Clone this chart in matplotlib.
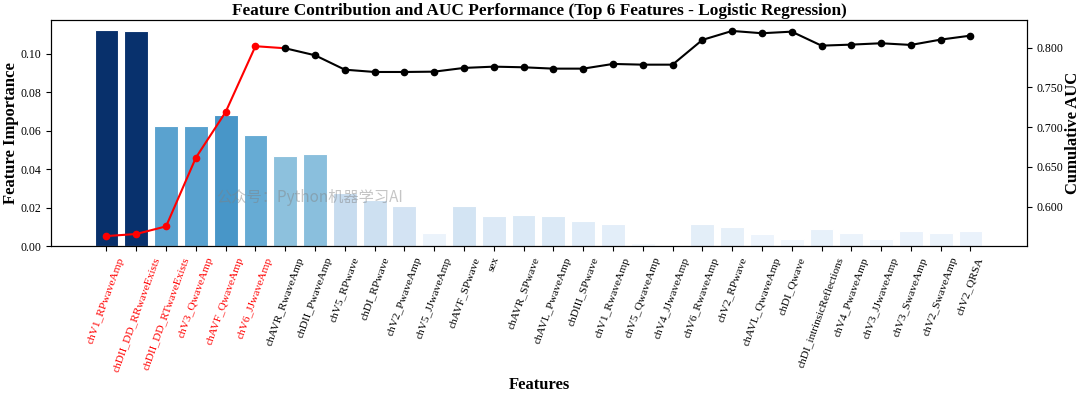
import matplotlib
matplotlib.use('Agg')
import matplotlib.pyplot as plt
import numpy as np

plt.rcParams['font.family'] = ['Liberation Serif', 'Noto Sans CJK SC']

features = ['chV1_RPwaveAmp', 'chDII_DD_RRwaveExists', 'chDII_DD_RTwaveExists',
            'chV3_QwaveAmp', 'chAVF_QwaveAmp', 'chV6_JJwaveAmp', 'chAVR_RwaveAmp',
            'chDII_PwaveAmp', 'chV5_RPwave', 'chDI_RPwave', 'chV2_PwaveAmp',
            'chV5_JJwaveAmp', 'chAVF_SPwave', 'sex', 'chAVR_SPwave', 'chAVL_PwaveAmp',
            'chDIII_SPwave', 'chV1_RwaveAmp', 'chV5_QwaveAmp', 'chV4_JJwaveAmp',
            'chV6_RwaveAmp', 'chV2_RPwave', 'chAVL_QwaveAmp', 'chDI_Qwave',
            'chDI_intrinsicReflections', 'chV4_PwaveAmp', 'chV3_JJwaveAmp',
            'chV3_SwaveAmp', 'chV2_SwaveAmp', 'chV2_QRSA']
importance = np.array([0.1123, 0.1118, 0.0622, 0.0625, 0.0681, 0.0578, 0.0469,
                       0.0477, 0.0275, 0.0239, 0.0207, 0.0066, 0.0206, 0.0157,
                       0.0160, 0.0158, 0.0129, 0.0113, 0.0018, 0.0004, 0.0117,
                       0.0100, 0.0061, 0.0039, 0.0090, 0.0069, 0.0039, 0.0076,
                       0.0069, 0.0077])
auc = np.array([0.5631, 0.5657, 0.5753, 0.6616, 0.7191, 0.8018, 0.7992, 0.7904,
                0.7723, 0.7694, 0.7694, 0.7698, 0.7745, 0.7761, 0.7753, 0.7736,
                0.7736, 0.7795, 0.7786, 0.7786, 0.8097, 0.8210, 0.8181, 0.8201,
                0.8025, 0.8038, 0.8055, 0.8034, 0.8101, 0.8151])
top_n = 6

x = np.arange(len(features))
colors = plt.cm.Blues(importance / importance.max())

fig = plt.figure(figsize=(10.8, 3.93), dpi=100)
ax = fig.add_axes([0.047, 0.374, 0.904, 0.574])
ax.bar(x, importance, width=0.8, color=colors, edgecolor='white', linewidth=0.8)
ax.set_xlim(-1.87, 30.9)
ax.set_ylim(0, 0.1173)
ax.set_xticks(x)
ax.set_xticklabels(features, rotation=70, ha='center', fontsize=8.2)
for i, lbl in enumerate(ax.get_xticklabels()):
    if i < top_n:
        lbl.set_color('red')
ax.tick_params(axis='y', labelsize=8.5)
ax.set_ylabel('Feature Importance', fontsize=12, fontweight='bold', labelpad=1)
ax.set_xlabel('Features', fontsize=12, fontweight='bold', labelpad=3)
ax.set_title('Feature Contribution and AUC Performance (Top 6 Features - Logistic Regression)',
             fontsize=12.4, fontweight='bold', pad=4)

ax2 = ax.twinx()
ax2.plot(x[top_n:], auc[top_n:], 'k-', lw=1.5)
ax2.plot(x[:top_n + 1], auc[:top_n + 1], 'r-', lw=1.5)
ax2.plot(x[:top_n], auc[:top_n], 'o', color='red', ms=4.5)
ax2.plot(x[top_n:], auc[top_n:], 'o', color='black', ms=4.5)
ax2.set_ylim(0.5506, 0.8342)
ax2.set_yticks([0.6, 0.65, 0.7, 0.75, 0.8])
ax2.set_yticklabels(['0.600', '0.650', '0.700', '0.750', '0.800'])
ax2.tick_params(axis='y', labelsize=8.5)
ax2.set_ylabel('Cumulative AUC', fontsize=12, fontweight='bold', labelpad=1)

fig.text(0.287, 0.497, '公众号：Python机器学习AI', fontsize=11, color='gray',
         alpha=0.45, ha='center', va='center',
         family=['Noto Sans CJK SC', 'DejaVu Sans'])

plt.savefig('out.png', dpi=100)
